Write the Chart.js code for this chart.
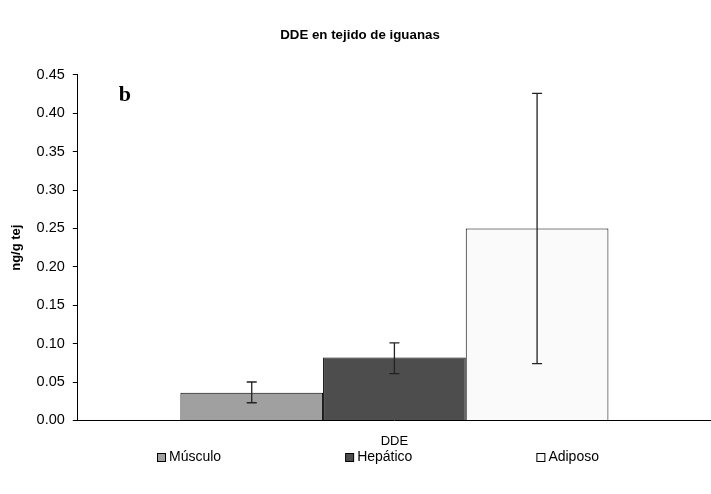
<!DOCTYPE html>
<html>
<head>
<meta charset="utf-8">
<script src="https://cdn.jsdelivr.net/npm/chart.js@4/dist/chart.umd.min.js"></script>
<style>
  html, body { margin: 0; padding: 0; background: #fff; }
  #wrap { width: 711px; height: 494px; }
</style>
</head>
<body>
<div id="wrap"><canvas id="grafiks"></canvas></div>
<script>
// Datu masīvi
const kategorijas = ['DDE'];
const audi = ['Músculo', 'Hepático', 'Adiposo'];
const vertibas = [0.036, 0.082, 0.250];
const kludaApaksa = [0.023, 0.061, 0.074];
const kludaAugsa = [0.050, 0.101, 0.426];
const krasas = ['#a0a0a0', '#4d4d4d', '#fafafa'];
const yTicks = [0, 0.05, 0.10, 0.15, 0.20, 0.25, 0.30, 0.35, 0.40, 0.45];

const fonts = 'Arial, "Liberation Sans", sans-serif';

// Kļūdu stabiņi
const kludas = {
    id: 'kludas',
    afterDatasetsDraw(chart) {
        const ctx = chart.ctx;
        const y = chart.scales.y;
        ctx.save();
        ctx.strokeStyle = '#222';
        ctx.lineWidth = 1.3;
        audi.forEach((n, i) => {
            const bar = chart.getDatasetMeta(i).data[0];
            const yl = y.getPixelForValue(kludaApaksa[i]);
            const yh = y.getPixelForValue(kludaAugsa[i]);
            ctx.beginPath();
            ctx.moveTo(bar.x, yl); ctx.lineTo(bar.x, yh);
            ctx.moveTo(bar.x - 5, yl); ctx.lineTo(bar.x + 5, yl);
            ctx.moveTo(bar.x - 5, yh); ctx.lineTo(bar.x + 5, yh);
            ctx.stroke();
        });
        ctx.restore();
    }
};

// Burts "b" un leģenda apakšā
const zimejumi = {
    id: 'zimejumi',
    afterDraw(chart) {
        const ctx = chart.ctx;
        const a = chart.chartArea;
        ctx.save();
        ctx.font = 'bold 22px "Liberation Serif", "Times New Roman", serif';
        ctx.fillStyle = '#000';
        ctx.textBaseline = 'alphabetic';
        ctx.fillText('b', a.left + 41, a.top + 26);

        // leģenda
        ctx.font = '14px ' + fonts;
        ctx.textBaseline = 'middle';
        let x = 157;
        const yc = 457;
        audi.forEach((n, i) => {
            ctx.fillStyle = krasas[i];
            ctx.fillRect(x + 0.5, yc - 3.5, 8, 8);
            ctx.strokeStyle = '#000';
            ctx.lineWidth = 1;
            ctx.strokeRect(x + 0.5, yc - 3.5, 8, 8);
            ctx.fillStyle = '#000';
            ctx.fillText(n, x + 12, yc);
            x += 12 + ctx.measureText(n).width + 124;
        });
        ctx.restore();
    }
};

new Chart(document.getElementById('grafiks'), {
    type: 'bar',
    data: {
        labels: kategorijas,
        datasets: audi.map((n, i) => ({
            label: n,
            data: [vertibas[i]],
            backgroundColor: krasas[i],
            borderColor: '#000',
            borderWidth: 1,
            barPercentage: 1,
            categoryPercentage: 0.676
        }))
    },
    options: {
        responsive: true,
        maintainAspectRatio: false,
        animation: false,
        layout: { padding: { left: 9, right: 0, top: 0, bottom: 40 } },
        plugins: {
            title: {
                display: true,
                text: 'DDE en tejido de iguanas',
                color: '#000',
                font: { family: fonts, size: 13.3, weight: 'bold' },
                padding: { top: 27, bottom: 32 }
            },
            legend: { display: false },
            tooltip: { enabled: false }
        },
        scales: {
            x: {
                grid: { display: false },
                border: { color: '#000', width: 1 },
                ticks: { color: '#000', font: { family: fonts, size: 13 }, padding: 5 }
            },
            y: {
                min: 0,
                max: 0.45,
                afterBuildTicks: (ax) => { ax.ticks = yTicks.map(v => ({ value: v })); },
                border: { color: '#000', width: 1 },
                grid: { drawOnChartArea: false, tickLength: 5, color: '#000' },
                ticks: {
                    color: '#000',
                    font: { family: fonts, size: 14.5 },
                    padding: 8,
                    callback: (v) => Number(v).toFixed(2)
                },
                title: {
                    display: true,
                    text: 'ng/g tej',
                    color: '#000',
                    font: { family: fonts, size: 13, weight: 'bold' },
                    padding: { top: 0, bottom: 4 }
                }
            }
        }
    },
    plugins: [kludas, zimejumi]
});
</script>
</body>
</html>
